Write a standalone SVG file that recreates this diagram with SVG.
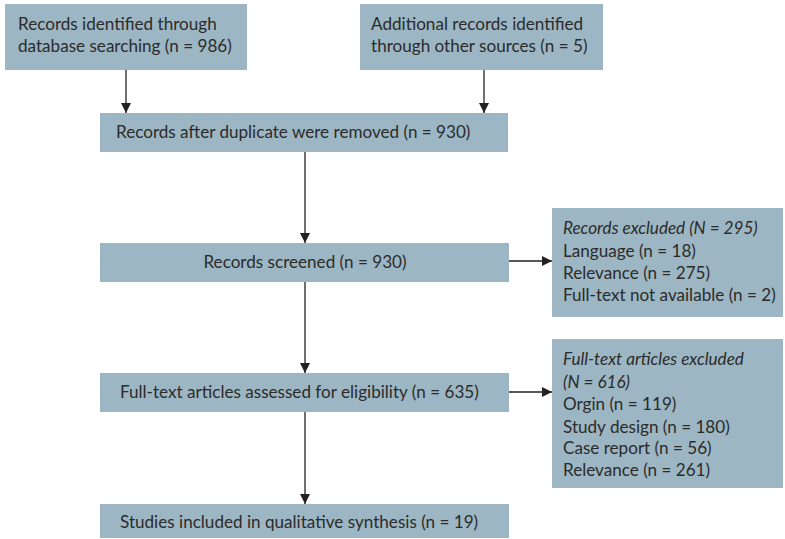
<svg xmlns="http://www.w3.org/2000/svg" width="785" height="539" viewBox="0 0 785 539">
<style>
.box{fill:#9db6c3;}
text{font-family:Lato,"Liberation Sans",sans-serif;font-size:17.1px;fill:#2b2b2b;}
.it{font-style:italic;}
.ln{stroke:#222;stroke-width:1.3;fill:none;}
</style>
<defs>
<marker id="ah" viewBox="0 0 10 10" refX="10" refY="5" markerWidth="10" markerHeight="10" markerUnits="userSpaceOnUse" orient="auto">
<path d="M0,0 L10,5 L0,10 Z" fill="#222"/>
</marker>
</defs>
<g id="n1"><rect class="box" x="5" y="4" width="242" height="66"/><text x="18" y="30">Records identified through</text><text x="18" y="52">database searching (n = 986)</text></g>
<g id="n2"><rect class="box" x="360" y="4" width="243" height="66"/><text x="371" y="30">Additional records identified</text><text x="371" y="52">through other sources (n = 5)</text></g>
<g id="n3"><rect class="box" x="100" y="113" width="408" height="39"/><text x="116" y="138">Records after duplicate were removed (n = 930)</text></g>
<g id="n4"><rect class="box" x="100" y="243" width="409" height="39"/><text x="305" y="268" text-anchor="middle">Records screened (n = 930)</text></g>
<g id="n5"><rect class="box" x="100" y="373" width="409" height="39"/><text x="120" y="398">Full-text articles assessed for eligibility (n = 635)</text></g>
<g id="n6"><rect class="box" x="100" y="504" width="409" height="34"/><text x="120" y="528">Studies included in qualitative synthesis (n = 19)</text></g>
<g id="n7"><rect class="box" x="552" y="208" width="231" height="109"/><text class="it" x="563" y="234">Records excluded (N = 295)</text><text x="563" y="257">Language (n = 18)</text><text x="563" y="279">Relevance (n = 275)</text><text x="563" y="301">Full-text not available (n = 2)</text></g>
<g id="n8"><rect class="box" x="552" y="339" width="231" height="149"/><text class="it" x="563" y="365">Full-text articles excluded</text><text class="it" x="563" y="388">(N = 616)</text><text x="563" y="410">Orgin (n = 119)</text><text x="563" y="433">Study design (n = 180)</text><text x="563" y="454">Case report (n = 56)</text><text x="563" y="476">Relevance (n = 261)</text></g>
<g id="connectors">
<line class="ln" x1="126" y1="70" x2="126" y2="113" marker-end="url(#ah)"/>
<line class="ln" x1="484" y1="70" x2="484" y2="113" marker-end="url(#ah)"/>
<line class="ln" x1="305" y1="152" x2="305" y2="243" marker-end="url(#ah)"/>
<line class="ln" x1="305" y1="282" x2="305" y2="373" marker-end="url(#ah)"/>
<line class="ln" x1="305" y1="412" x2="305" y2="504" marker-end="url(#ah)"/>
<line class="ln" x1="509" y1="261" x2="552" y2="261" marker-end="url(#ah)"/>
<line class="ln" x1="509" y1="392" x2="552" y2="392" marker-end="url(#ah)"/>
</g>
</svg>
